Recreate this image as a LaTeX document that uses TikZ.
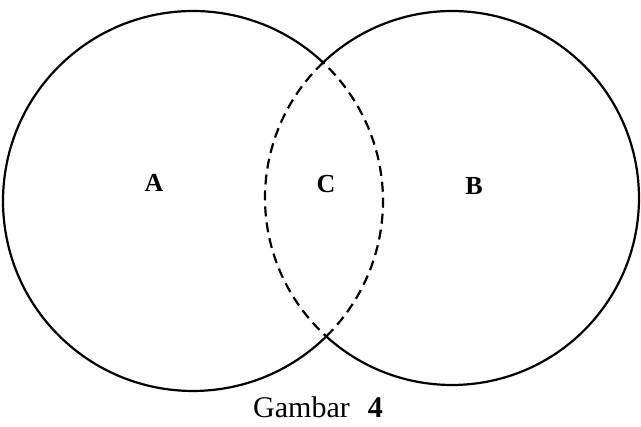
\documentclass[tikz,border=0pt]{standalone}
\usepackage{fontspec}
\setmainfont{Liberation Serif}
\begin{document}
\begin{tikzpicture}[x=1pt,y=1pt,
  solidarc/.style={line width=2.2pt},
  dasharc/.style={line width=2.2pt, dash pattern=on 10pt off 6pt},
  lbl/.style={font=\fontsize{26}{28}\selectfont\bfseries}]
\useasboundingbox (0,0) rectangle (641,427);
\coordinate (CA) at (193,226);
\coordinate (CB) at (452,229);
% left circle
\draw[solidarc] (CA) ++(46.79:190) arc[start angle=46.79, end angle=314.54, radius=190];
\draw[dasharc] (CA) ++(-45.46:190) arc[start angle=-45.46, end angle=46.79, radius=190];
% right circle
\draw[solidarc] (CB) ++(-132.25:187) arc[start angle=-132.25, end angle=133.57, radius=187];
\draw[dasharc] (CB) ++(133.57:187) arc[start angle=133.57, end angle=227.75, radius=187];
\node[lbl] (A) at (154,244) {A};
\node[lbl] (C) at (326,243) {C};
\node[lbl] (B) at (474,241) {B};
\node[anchor=base west, inner sep=0pt, font=\fontsize{30}{32}\selectfont] (cap) at (253,9) {Gambar\hspace{18pt}\textbf{4}};
\end{tikzpicture}
\end{document}
